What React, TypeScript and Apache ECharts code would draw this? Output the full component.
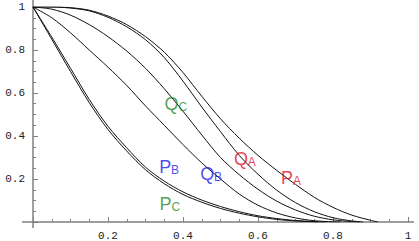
import React, { useEffect, useRef } from "react";
import * as echarts from "echarts";

// Curves, [x, y]
const curvePA: number[][] = [
  [0, 1], [0.05, 1], [0.1, 0.997], [0.15, 0.985], [0.2, 0.958], [0.25, 0.918],
  [0.3, 0.862], [0.35, 0.79], [0.4, 0.695], [0.45, 0.585], [0.5, 0.48],
  [0.55, 0.39], [0.6, 0.31], [0.65, 0.24], [0.7, 0.175], [0.75, 0.115],
  [0.8, 0.068], [0.85, 0.032], [0.9, 0.008], [0.92, 0],
];
const curveQA: number[][] = [
  [0, 1], [0.05, 1], [0.1, 0.995], [0.15, 0.982], [0.2, 0.952], [0.25, 0.908],
  [0.3, 0.848], [0.35, 0.765], [0.4, 0.655], [0.45, 0.535], [0.5, 0.42],
  [0.55, 0.31], [0.6, 0.222], [0.65, 0.148], [0.7, 0.09], [0.75, 0.048],
  [0.8, 0.02], [0.85, 0.005], [0.88, 0],
];
const curveQC: number[][] = [
  [0, 1], [0.05, 0.99], [0.1, 0.962], [0.15, 0.918], [0.2, 0.862], [0.25, 0.795],
  [0.3, 0.715], [0.35, 0.62], [0.4, 0.515], [0.45, 0.405], [0.5, 0.3],
  [0.55, 0.22], [0.6, 0.152], [0.65, 0.097], [0.7, 0.056], [0.75, 0.027],
  [0.8, 0.01], [0.85, 0.002], [0.87, 0],
];
const curveQB: number[][] = [
  [0, 1], [0.05, 0.95], [0.1, 0.88], [0.15, 0.8], [0.2, 0.72], [0.25, 0.635],
  [0.3, 0.54], [0.35, 0.45], [0.4, 0.36], [0.45, 0.275], [0.5, 0.2],
  [0.55, 0.13], [0.6, 0.078], [0.65, 0.042], [0.7, 0.019], [0.75, 0.006],
  [0.8, 0.001], [0.82, 0],
];
const curvePB: number[][] = [
  [0, 1], [0.05, 0.86], [0.1, 0.715], [0.15, 0.57], [0.2, 0.445], [0.25, 0.345],
  [0.3, 0.255], [0.35, 0.19], [0.4, 0.14], [0.45, 0.102], [0.5, 0.072],
  [0.55, 0.048], [0.6, 0.029], [0.65, 0.016], [0.7, 0.007], [0.75, 0.002],
  [0.78, 0],
];
const curvePC: number[][] = [
  [0, 1], [0.05, 0.85], [0.1, 0.7], [0.15, 0.555], [0.2, 0.43], [0.25, 0.33],
  [0.3, 0.243], [0.35, 0.178], [0.4, 0.128], [0.45, 0.092], [0.5, 0.063],
  [0.55, 0.041], [0.6, 0.024], [0.65, 0.012], [0.7, 0.005], [0.75, 0.001],
  [0.76, 0],
];

// Curve labels: main letter, subscript letter, colour key, position (data coords)
const labelMain = ["Q", "Q", "Q", "P", "P", "P"];
const labelSub = ["C", "A", "B", "A", "B", "C"];
const labelColor = ["green", "red", "blue", "red", "blue", "green"];
const labelPos: number[][] = [
  [0.381, 0.548], [0.565, 0.295], [0.475, 0.221],
  [0.688, 0.203], [0.363, 0.258], [0.365, 0.083],
];

const colors: Record<string, string> = {
  red: "#e0102c",
  blue: "#1c1ce8",
  green: "#1f8a2c",
};

export default function App() {
  const ref = useRef<HTMLDivElement>(null);
  useEffect(() => {
    const chart = echarts.init(ref.current!, null, { renderer: "svg" });
    const axisColor = "#808080";
    const curves = [curvePA, curveQA, curveQC, curveQB, curvePB, curvePC];
    const option: any = {
      animation: false,
      backgroundColor: "#fff",
      grid: { left: 33, right: 11, top: 7, bottom: 17, containLabel: false },
      xAxis: {
        type: "value",
        min: 0,
        max: 1,
        interval: 0.2,
        axisLine: { show: true, lineStyle: { color: axisColor, width: 1.5 } },
        axisTick: { show: true, inside: true, length: 5, lineStyle: { color: axisColor, width: 1 } },
        minorTick: { show: true, splitNumber: 4, length: 3, lineStyle: { color: axisColor, width: 1 } },
        splitLine: { show: false },
        axisLabel: {
          margin: 8,
          color: "#222",
          fontFamily: "Liberation Mono",
          fontSize: 11,
          formatter: (v: number) => (v === 0 ? "" : String(v)),
        },
      },
      yAxis: {
        type: "value",
        min: 0,
        max: 1,
        interval: 0.2,
        axisLine: { show: true, lineStyle: { color: axisColor, width: 1.5 } },
        axisTick: { show: true, inside: true, length: 5, lineStyle: { color: axisColor, width: 1 } },
        minorTick: { show: true, splitNumber: 4, length: 3, lineStyle: { color: axisColor, width: 1 } },
        splitLine: { show: false },
        axisLabel: {
          margin: 8,
          color: "#222",
          fontFamily: "Liberation Mono",
          fontSize: 11,
          formatter: (v: number) => (v === 0 ? "" : String(v)),
        },
      },
      series: [
        ...curves.map((c) => ({
          type: "line",
          data: c,
          showSymbol: false,
          smooth: 0.3,
          lineStyle: { color: "#111", width: 1 },
          z: 3,
        })),
        {
          type: "scatter",
          symbolSize: 0,
          z: 5,
          data: labelPos.map((p, i) => ({
            value: p,
            label: {
              show: true,
              position: "inside",
              formatter: `{m|${labelMain[i]}}{s|${labelSub[i]}}`,
              rich: {
                m: {
                  fontFamily: "Liberation Sans",
                  fontSize: 18,
                  color: colors[labelColor[i]],
                  lineHeight: 18,
                  verticalAlign: "bottom",
                },
                s: {
                  fontFamily: "Liberation Sans",
                  fontSize: 12,
                  color: colors[labelColor[i]],
                  lineHeight: 14,
                  verticalAlign: "bottom",
                },
              },
            },
          })),
        },
      ],
    };
    chart.setOption(option);
    const o = chart.convertToPixel({ gridIndex: 0 }, [0, 0]) as number[];
    const t = chart.convertToPixel({ gridIndex: 0 }, [1, 1]) as number[];
    chart.setOption({
      graphic: [
        { type: "line", shape: { x1: o[0] - 11, y1: o[1], x2: o[0], y2: o[1] }, style: { stroke: axisColor, lineWidth: 1.5 } },
        { type: "line", shape: { x1: t[0], y1: o[1], x2: t[0] + 6, y2: o[1] }, style: { stroke: axisColor, lineWidth: 1.5 } },
        { type: "line", shape: { x1: o[0], y1: o[1], x2: o[0], y2: o[1] + 6 }, style: { stroke: axisColor, lineWidth: 1.5 } },
        { type: "line", shape: { x1: o[0], y1: t[1] - 7, x2: o[0], y2: t[1] }, style: { stroke: axisColor, lineWidth: 1.5 } },
      ],
    });
    return () => chart.dispose();
  }, []);
  return (
    <div
      ref={ref}
      style={{ position: "fixed", left: 0, top: 0, width: 419, height: 241, background: "#fff" }}
    />
  );
}
